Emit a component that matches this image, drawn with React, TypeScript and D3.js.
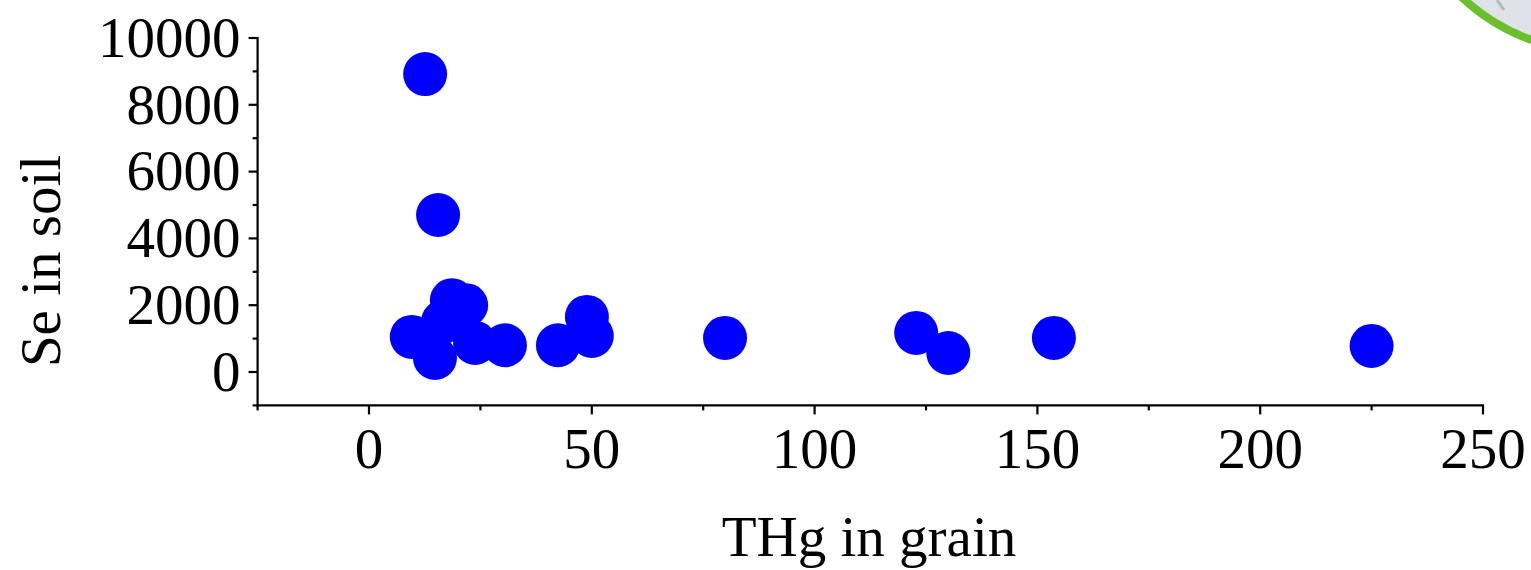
import React from "react";
import * as d3 from "d3";

const thgGrain = [12.6, 15.5, 9.6, 14.8, 16.6, 18.6, 21.8, 23.8, 30.5, 42.4, 48.9, 50.0, 79.9, 122.8, 130.0, 153.7, 225.0];
const seSoil = [8920, 4700, 1050, 420, 1500, 2150, 2000, 870, 800, 800, 1650, 1080, 1020, 1170, 570, 1020, 780];

const xMajor = [0, 50, 100, 150, 200, 250];
const xMinor = [-25, 25, 75, 125, 175, 225];
const yMajor = [0, 2000, 4000, 6000, 8000, 10000];
const yMinor = [-1000, 1000, 3000, 5000, 7000, 9000];

const W = 1531;
const H = 570;
const FONT = "'Liberation Serif', 'Times New Roman', serif";

export default function App() {
  const x = d3.scaleLinear().domain([-25, 250]).range([257.6, 1483]);
  const y = d3.scaleLinear().domain([-1000, 10000]).range([405.4, 38]);
  const x0 = x(-25);
  const y0 = y(-1000);
  const pts = d3.zip(thgGrain, seSoil) as [number, number][];

  return (
    <svg
      width={W}
      height={H}
      style={{ position: "absolute", left: 0, top: 0, background: "#fff" }}
      fontFamily={FONT}
    >
      {/* decorative partial ellipse top-right */}
      <circle cx={1600} cy={-150} r={202} fill="#dfe2e8" stroke="#6abf2a" strokeWidth={8} />
      <line x1={1497} y1={0} x2={1504} y2={10} stroke="#b4bab6" strokeWidth={3} />

      {/* points */}
      {pts.map(([px, py], i) => (
        <circle key={i} cx={x(px)} cy={y(py)} r={22} fill="#0000ff" />
      ))}

      {/* axes lines */}
      <g stroke="#000" strokeWidth={2.2} fill="none">
        <line x1={x0} y1={y(10000) - 1} x2={x0} y2={y0 + 1} />
        <line x1={x0 - 1} y1={y0} x2={x(250) + 1} y2={y0} />
        {yMajor.map((v) => (
          <line key={"ym" + v} x1={x0 - 9} x2={x0} y1={y(v)} y2={y(v)} />
        ))}
        {yMinor.map((v) => (
          <line key={"yn" + v} x1={x0 - 5} x2={x0} y1={y(v)} y2={y(v)} />
        ))}
        {xMajor.map((v) => (
          <line key={"xm" + v} x1={x(v)} x2={x(v)} y1={y0} y2={y0 + 9} />
        ))}
        {xMinor.map((v) => (
          <line key={"xn" + v} x1={x(v)} x2={x(v)} y1={y0} y2={y0 + 5} />
        ))}
      </g>

      {/* tick labels */}
      <g fontSize={57} fill="#000">
        {yMajor.map((v) => (
          <text key={"yl" + v} x={x0 - 17} y={y(v)} dy="0.33em" textAnchor="end">
            {v}
          </text>
        ))}
        {xMajor.map((v) => (
          <text key={"xl" + v} x={x(v)} y={468} textAnchor="middle">
            {v}
          </text>
        ))}
      </g>

      {/* axis titles */}
      <text x={869} y={556} fontSize={57} textAnchor="middle" fill="#000">
        THg in grain
      </text>
      <text
        transform={`translate(60, 261) rotate(-90)`}
        fontSize={57}
        textAnchor="middle"
        fill="#000"
      >
        Se in soil
      </text>
    </svg>
  );
}
